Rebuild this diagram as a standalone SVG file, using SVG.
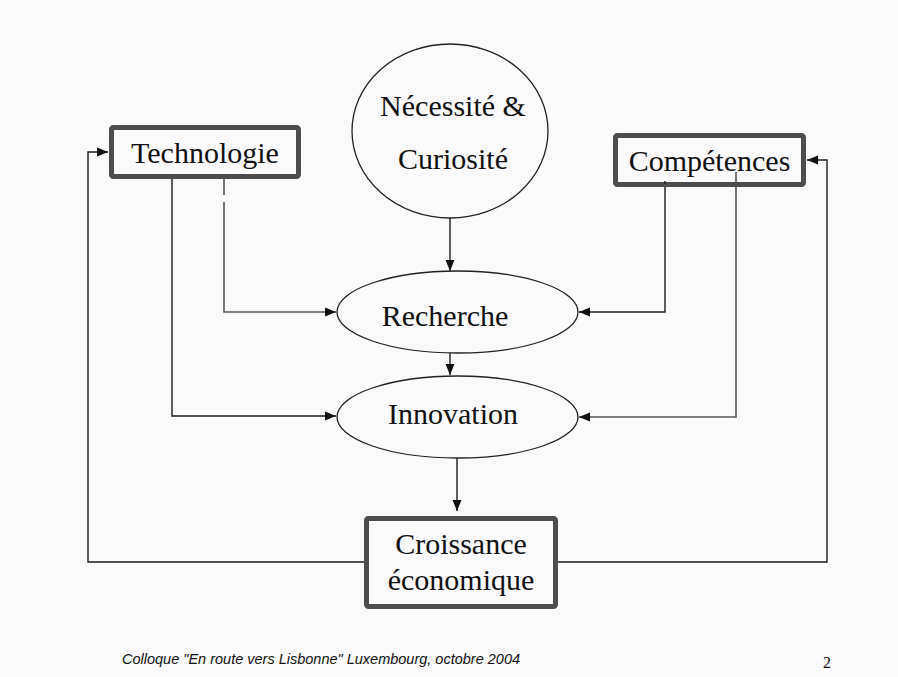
<svg xmlns="http://www.w3.org/2000/svg" width="898" height="677" viewBox="0 0 898 677">
<defs>
<marker id="ah" markerUnits="userSpaceOnUse" markerWidth="12" markerHeight="10" refX="11" refY="5" orient="auto">
<path d="M0,0.5 L11,5 L0,9.5 Z" fill="#111"/>
</marker>
<style>
.box{fill:#fafafa;stroke:#4d4d4d;stroke-width:5;}
.ell{fill:#fafafa;stroke:#222;stroke-width:1.3;}
.lbl{font-family:"Liberation Serif","Times New Roman",serif;font-size:30px;fill:#111;text-anchor:middle;}
.c{fill:none;stroke:#1a1a1a;stroke-width:1.4;}
.g{fill:none;stroke:#555;stroke-width:1.6;}
.foot{font-family:"Liberation Sans",Arial,sans-serif;font-style:italic;font-size:14.5px;fill:#111;}
</style>
</defs>
<rect width="898" height="677" fill="#fafafa"/>

<g id="connectors">
<path class="c" d="M450,218 V271" marker-end="url(#ah)"/>
<path class="c" d="M450,346 V375" marker-end="url(#ah)"/>
<path class="c" d="M457,458 V511" marker-end="url(#ah)"/>
<path class="c" d="M172,179 V416 H336" marker-end="url(#ah)"/>
<path class="g" d="M224,179 V195"/>
<path class="g" d="M224,202 V312 H336" marker-end="url(#ah)"/>
<path class="c" d="M665,181 V312 H579" marker-end="url(#ah)"/>
<path class="g" d="M736,172 V417 H579" marker-end="url(#ah)"/>
<path class="c" d="M364,562 H88 V152 H108" marker-end="url(#ah)"/>
<path class="c" d="M558,562 H827 V160 H807" marker-end="url(#ah)"/>
</g>

<g id="necessite">
<ellipse class="ell" cx="450" cy="131" rx="98" ry="87"/>
<text class="lbl" x="453" y="116">Nécessité &amp;</text>
<text class="lbl" x="453" y="169">Curiosité</text>
</g>

<g id="technologie">
<rect class="box" x="111.5" y="127.5" width="187" height="49" rx="2"/>
<text class="lbl" x="205" y="163">Technologie</text>
</g>

<g id="competences">
<rect class="box" x="615.5" y="135.5" width="188" height="49" rx="2"/>
<text class="lbl" x="709.5" y="171">Compétences</text>
</g>
<path class="c" d="M665,181 V184"/>
<path class="g" d="M736,172 V184"/>

<g id="recherche">
<ellipse class="ell" cx="457.5" cy="312" rx="120.5" ry="41"/>
<text class="lbl" x="445" y="326">Recherche</text>
</g>

<g id="innovation">
<ellipse class="ell" cx="457.5" cy="417" rx="120.5" ry="41"/>
<text class="lbl" x="453" y="424">Innovation</text>
</g>

<g id="croissance">
<rect class="box" x="366.5" y="518.5" width="189" height="88" rx="2"/>
<text class="lbl" x="461" y="554">Croissance</text>
<text class="lbl" x="461" y="590">économique</text>
</g>

<text class="foot" x="122" y="664">Colloque "En route vers Lisbonne" Luxembourg, octobre 2004</text>
<text x="827" y="668" font-family="Liberation Serif, serif" font-size="16" fill="#111" text-anchor="middle">2</text>
</svg>
